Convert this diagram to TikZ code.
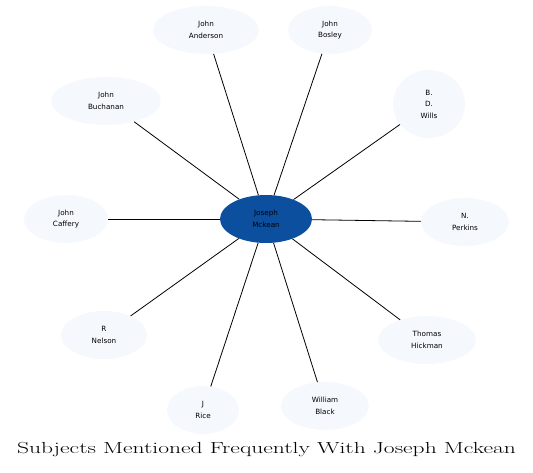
\documentclass[tikz,border=0pt]{standalone}
\usepackage{fontspec}
\newfontfamily\labelfont{DejaVu Sans}
\usetikzlibrary{shapes.geometric}
\definecolor{hubblue}{HTML}{0B4F9E}
\definecolor{leaffill}{HTML}{F5F9FE}
\begin{document}
\begin{tikzpicture}[x=1pt,y=-1pt,
  every node/.style={font=\labelfont\fontsize{7.2}{11.5}\selectfont, align=center, inner sep=0pt},
  hub/.style={ellipse, fill=hubblue, text=black, minimum width=92pt, minimum height=48pt},
  leaf/.style={ellipse, fill=leaffill, text=black, minimum height=48pt},
  link/.style={draw=black, line width=0.8pt}]
\useasboundingbox (0,0) rectangle (533,472);
\node[hub] (c) at (266,219) {Joseph\\Mckean};
\node[leaf, minimum width=106pt] (anderson) at (206,30) {John\\Anderson};
\node[leaf, minimum width=84pt] (bosley) at (330,30) {John\\Bosley};
\node[leaf, minimum width=72pt, minimum height=68pt] (wills) at (429,104) {B.\\D.\\Wills};
\node[leaf, minimum width=110pt] (buchanan) at (106,101) {John\\Buchanan};
\node[leaf, minimum width=84pt] (caffery) at (66,219) {John\\Caffery};
\node[leaf, minimum width=88pt] (perkins) at (465,222) {N.\\Perkins};
\node[leaf, minimum width=86pt] (nelson) at (104,335) {R\\Nelson};
\node[leaf, minimum width=98pt] (hickman) at (427,340) {Thomas\\Hickman};
\node[leaf, minimum width=72pt] (rice) at (203,410) {J\\Rice};
\node[leaf, minimum width=88pt] (black) at (325,406) {William\\Black};
\foreach \n in {anderson,bosley,wills,buchanan,caffery,perkins,nelson,hickman,rice,black}
  \draw[link] (c) -- (\n);
\node[font=\fontsize{16}{19}\selectfont] (title) at (266.5,450) {\scalebox{1.47}[1]{Subjects Mentioned Frequently With Joseph Mckean}};
\end{tikzpicture}
\end{document}
